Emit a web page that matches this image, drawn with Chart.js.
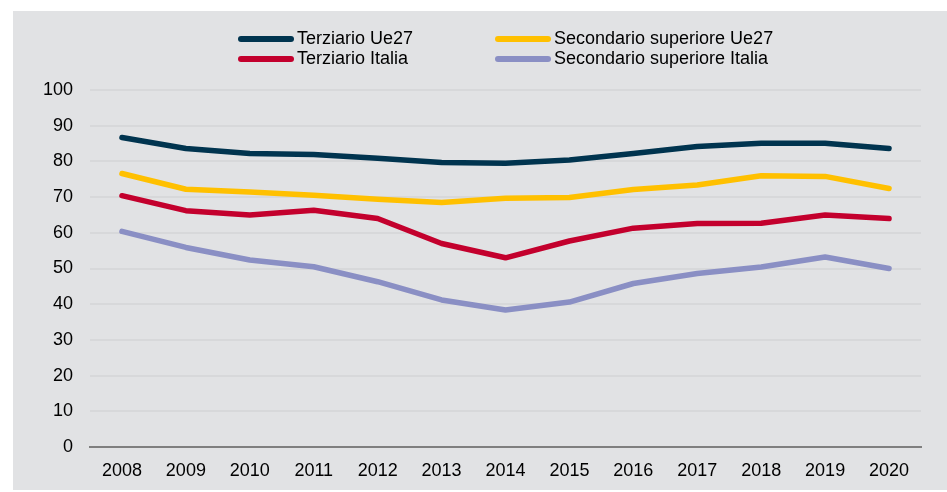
<!DOCTYPE html>
<html>
<head>
<meta charset="utf-8">
<script src="https://cdn.jsdelivr.net/npm/chart.js@4"></script>
<style>
  body { margin: 0; background: #ffffff; }
  #panel { position: absolute; left: 13px; top: 11px; width: 934px; height: 479px; background: #e1e2e4; }
</style>
</head>
<body>
<div id="panel"><canvas id="chart" width="934" height="479"></canvas></div>
<script>
// Values
const years = ['2008', '2009', '2010', '2011', '2012', '2013', '2014', '2015', '2016', '2017', '2018', '2019', '2020'];
const terziarioUe27 = [86.7, 83.6, 82.2, 81.9, 80.9, 79.7, 79.5, 80.4, 82.2, 84.2, 85.1, 85.1, 83.6];
const secondarioUe27 = [76.6, 72.2, 71.4, 70.5, 69.4, 68.5, 69.7, 69.9, 72.1, 73.4, 76.0, 75.8, 72.4];
const terziarioItalia = [70.4, 66.2, 65.0, 66.3, 64.0, 57.0, 53.0, 57.7, 61.3, 62.6, 62.7, 65.0, 64.0];
const secondarioItalia = [60.4, 55.9, 52.4, 50.5, 46.3, 41.2, 38.4, 40.6, 45.8, 48.6, 50.4, 53.2, 50.0];
const yTicks = [0, 10, 20, 30, 40, 50, 60, 70, 80, 90, 100];

const font = "'Liberation Sans', Arial, sans-serif";

function line(label, data, color) {
    return {
        label: label,
        data: data,
        borderColor: color,
        backgroundColor: color,
        borderWidth: 5.5,
        borderCapStyle: 'round',
        borderJoinStyle: 'round',
        pointRadius: 0,
        tension: 0,
        fill: false
    };
}

// Two-column legend drawn above the plot
const legendPlugin = {
    id: 'twoColLegend',
    afterDraw(chart) {
        const c = chart.ctx;
        const cols = [225, 482];
        const rows = [28, 48];
        c.save();
        c.font = '18px ' + font;
        c.textBaseline = 'middle';
        chart.data.datasets.forEach((ds, i) => {
            const x = cols[i % 2];
            const y = rows[Math.floor(i / 2)];
            c.strokeStyle = ds.borderColor;
            c.lineWidth = 6;
            c.lineCap = 'round';
            c.beginPath();
            c.moveTo(x + 3, y);
            c.lineTo(x + 53, y);
            c.stroke();
            c.fillStyle = '#000000';
            c.fillText(ds.label, x + 59, y);
        });
        c.restore();
    }
};

new Chart(document.getElementById('chart'), {
    type: 'line',
    data: {
        labels: years,
        datasets: [
            line('Terziario Ue27', terziarioUe27, '#00344f'),
            line('Secondario superiore Ue27', secondarioUe27, '#ffc000'),
            line('Terziario Italia', terziarioItalia, '#c3002d'),
            line('Secondario superiore Italia', secondarioItalia, '#8a8fc4')
        ]
    },
    options: {
        responsive: false,
        animation: false,
        layout: { padding: { top: 79, right: 26, bottom: 10, left: 14 } },
        plugins: {
            legend: { display: false },
            tooltip: { enabled: false }
        },
        scales: {
            x: {
                offset: true,
                grid: { display: false },
                border: { display: true, color: '#7f7f7f', width: 2 },
                ticks: { color: '#000000', font: { family: font, size: 18 }, padding: 5, maxRotation: 0 },
                afterFit(scale) { scale.height = 33; }
            },
            y: {
                min: 0,
                max: 100,
                afterBuildTicks(scale) { scale.ticks = yTicks.map(v => ({ value: v })); },
                grid: { color: '#d7d8da', lineWidth: 2, drawTicks: false },
                border: { display: false },
                ticks: { color: '#000000', font: { family: font, size: 18 }, padding: 17 },
                afterFit(scale) { scale.width = 63; }
            }
        }
    },
    plugins: [legendPlugin]
});
</script>
</body>
</html>
